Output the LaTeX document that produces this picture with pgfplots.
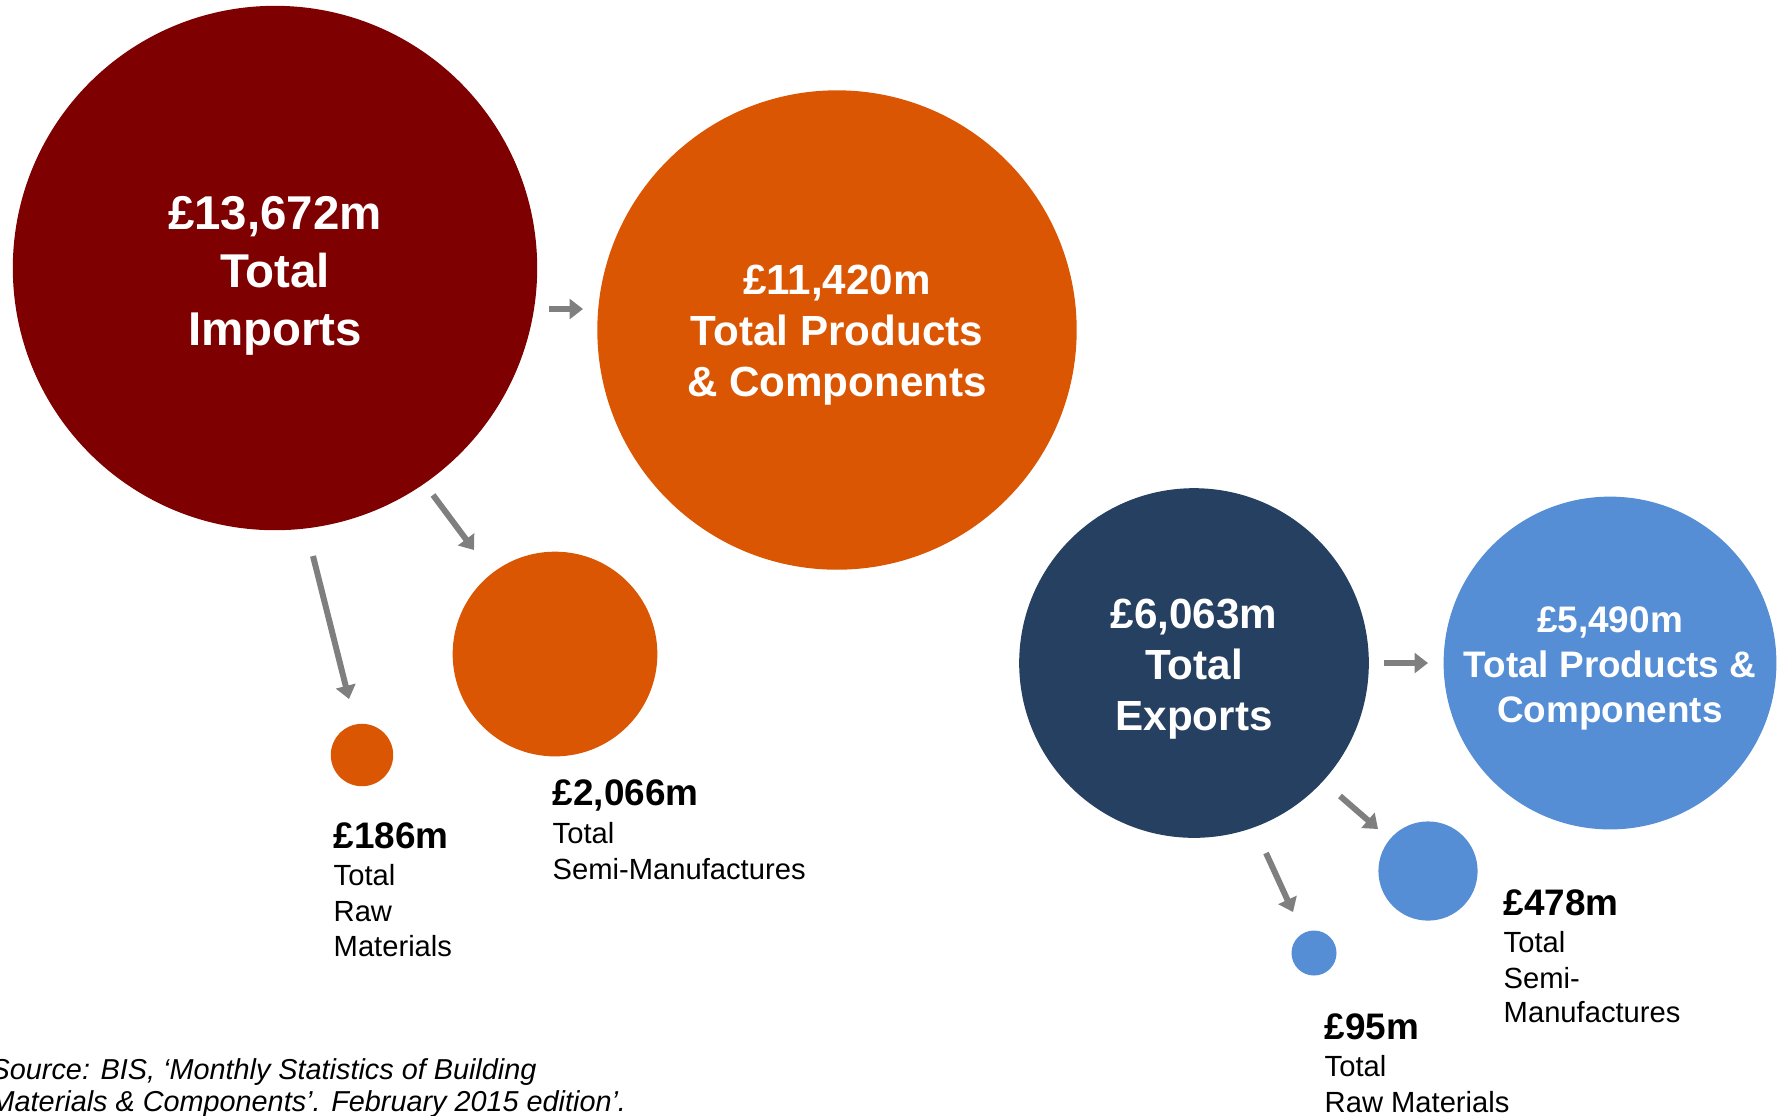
\documentclass[border=0pt]{standalone}
\usepackage{fontspec}
\setmainfont{Liberation Sans}
\usepackage{pgfplots}
\usepackage{pgfplotstable}
\pgfplotsset{compat=1.18}
\usetikzlibrary{arrows.meta}
\definecolor{impred}{RGB}{127,0,0}
\definecolor{imporange}{RGB}{219,86,3}
\definecolor{expnavy}{RGB}{38,64,97}
\definecolor{expblue}{RGB}{85,142,213}
\definecolor{arrowgray}{RGB}{127,127,127}

% x, y in pixels from the top-left corner; v = value in GBP million
\pgfplotstableread{
x y v
275 268 13672
}\tImpTotal
\pgfplotstableread{
x y v
837 330 11420
555 654 2066
362 755 186
}\tImpParts
\pgfplotstableread{
x y v
1194 663 6063
}\tExpTotal
\pgfplotstableread{
x y v
1610 663 5490
1428 871 478
1314 953 95
}\tExpParts

\begin{document}
\begin{tikzpicture}
\begin{axis}[x=0.1mm, y=0.1mm, y dir=reverse,
  xmin=0, xmax=1783, ymin=0, ymax=1115,
  hide axis, clip=false, scale only axis,
  bub/.style={scatter, only marks, mark=*,
    scatter/use mapped color={draw=#1, fill=#1},
    visualization depends on={0.6363*sqrt(\thisrow{v}) \as \rad},
    scatter/@pre marker code/.append style={/tikz/mark size=\rad}}]
\coordinate (bl) at (axis cs:0,1115);
\coordinate (tr) at (axis cs:1783,0);
\coordinate (tImp) at (axis cs:275,275.5);
\coordinate (tImpP) at (axis cs:837,335.5);
\coordinate (tExp) at (axis cs:1194,669.5);
\coordinate (tExpP) at (axis cs:1610,668.5);

\addplot[bub=impred] table[x=x, y=y] {\tImpTotal};
\addplot[bub=imporange] table[x=x, y=y] {\tImpParts};
\addplot[bub=expnavy] table[x=x, y=y] {\tExpTotal};
\addplot[bub=expblue] table[x=x, y=y] {\tExpParts};

% arrows
\begin{scope}[arrowgray, line width=1.7pt, -{Triangle[length=3.8pt,width=5.6pt]}]
\draw (axis cs:549,309) -- (axis cs:583,309);
\draw (axis cs:433,495) -- (axis cs:474,550);
\draw (axis cs:313,556) -- (axis cs:349,699);
\draw (axis cs:1384,663) -- (axis cs:1428,663);
\draw (axis cs:1340,796) -- (axis cs:1378,829);
\draw (axis cs:1266,853) -- (axis cs:1293,912);
\end{scope}

% outside labels
\tikzset{vlab/.style={anchor=base west, inner sep=0pt, font={\fontsize{10.5}{12}\selectfont\bfseries}},
         tlab/.style={anchor=base west, inner sep=0pt, font={\fontsize{8.3}{10}\selectfont}}}
\node[vlab] at (axis cs:333,848) {£186m};
\node[tlab] at (axis cs:333,885.5) {Total};
\node[tlab] at (axis cs:333,921) {Raw};
\node[tlab] at (axis cs:333,956.5) {Materials};

\node[vlab] at (axis cs:552,805) {£2,066m};
\node[tlab] at (axis cs:552,843.5) {Total};
\node[tlab] at (axis cs:552,879) {Semi-Manufactures};

\node[vlab] at (axis cs:1503,915) {£478m};
\node[tlab] at (axis cs:1503,952.5) {Total};
\node[tlab] at (axis cs:1503,988) {Semi-};
\node[tlab] at (axis cs:1503,1022.5) {Manufactures};

\node[vlab] at (axis cs:1324,1039) {£95m};
\node[tlab] at (axis cs:1324,1076.5) {Total};
\node[tlab] at (axis cs:1324,1112) {Raw Materials};

% source
\tikzset{slab/.style={anchor=base west, inner sep=0pt, font={\fontsize{8.2}{10}\selectfont\itshape}}}
\node[slab] at (axis cs:-10,1079) {Source: BIS, ‘Monthly Statistics of Building};
\node[slab] at (axis cs:-10,1111) {Materials \& Components’. February 2015 edition’.};
\end{axis}

% bubble texts, drawn on top of the bubbles
\node[text=white, align=center, font={\fontsize{13.5}{16.5}\selectfont\bfseries}]
  at (tImp) {£13,672m\\Total\\Imports};
\node[text=white, align=center, font={\fontsize{12}{14.5}\selectfont\bfseries}]
  at (tImpP) {£11,420m\\Total Products\\\& Components};
\node[text=white, align=center, font={\fontsize{12}{14.5}\selectfont\bfseries}]
  at (tExp) {£6,063m\\Total\\Exports};
\node[text=white, align=center, font={\fontsize{10.5}{12.8}\selectfont\bfseries}]
  at (tExpP) {£5,490m\\Total Products \&\\Components};

\pgfresetboundingbox
\path[use as bounding box] (bl) rectangle (tr);
\end{tikzpicture}
\end{document}
